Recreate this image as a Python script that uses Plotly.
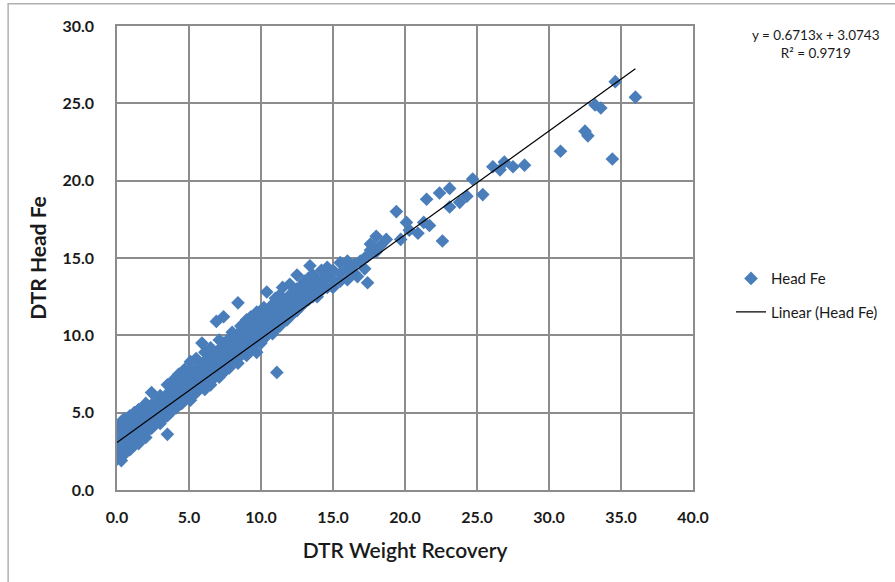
import plotly.graph_objects as go

# (DTR Weight Recovery, DTR Head Fe) pairs
points = [
    (0.0, 2.0), (0.0, 2.6), (0.0, 3.2), (0.0, 3.8),
    (0.1, 2.3), (0.1, 3.5), (0.1, 4.2),
    (0.2, 2.1), (0.2, 2.9), (0.2, 3.3),
    (0.3, 1.9), (0.3, 2.5), (0.3, 3.6), (0.3, 4.4),
    (0.5, 2.7), (0.5, 3.1), (0.5, 3.9), (0.5, 4.6),
    (0.6, 2.4),
    (0.7, 3.0), (0.7, 3.6), (0.7, 4.3),
    (0.9, 2.6), (0.9, 3.4), (0.9, 4.0), (0.9, 4.8),
    (1.0, 3.2), (1.0, 3.9), (1.0, 4.5),
    (1.2, 2.9), (1.2, 3.7), (1.2, 4.2), (1.2, 5.0),
    (1.4, 3.4), (1.4, 4.1), (1.4, 4.7),
    (1.5, 3.0), (1.5, 3.8), (1.5, 5.2),
    (1.7, 3.6), (1.7, 4.3), (1.7, 4.9),
    (1.9, 3.8), (1.9, 4.5), (1.9, 5.3),
    (2.0, 3.4), (2.0, 4.1), (2.0, 4.8), (2.0, 5.6),
    (2.2, 3.9), (2.2, 4.6), (2.2, 5.2),
    (2.4, 4.0), (2.4, 4.7), (2.4, 5.5), (2.4, 6.3),
    (2.6, 4.2), (2.6, 4.9), (2.6, 5.6),
    (2.8, 4.5), (2.8, 5.1), (2.8, 5.8),
    (3.0, 4.3), (3.0, 4.9), (3.0, 5.4), (3.0, 6.1),
    (3.2, 4.6), (3.2, 5.2), (3.2, 5.9),
    (3.5, 3.6), (3.5, 4.8), (3.5, 5.5), (3.5, 6.2), (3.5, 6.8),
    (3.7, 5.0), (3.7, 5.7), (3.7, 6.4),
    (3.9, 5.2), (3.9, 5.9), (3.9, 6.6), (3.9, 7.1),
    (4.1, 5.3), (4.1, 6.0), (4.1, 6.7),
    (4.3, 5.5), (4.3, 6.2), (4.3, 6.9), (4.3, 7.5),
    (4.5, 5.6), (4.5, 6.3), (4.5, 7.0),
    (4.7, 5.8), (4.7, 6.5), (4.7, 7.2), (4.7, 7.8),
    (4.9, 6.0), (4.9, 6.7), (4.9, 7.4),
    (5.1, 5.8), (5.1, 6.4), (5.1, 7.0), (5.1, 7.7), (5.1, 8.3),
    (5.3, 6.2), (5.3, 6.9), (5.3, 7.6),
    (5.5, 6.3), (5.5, 7.1), (5.5, 7.8), (5.5, 8.5),
    (5.7, 6.5), (5.7, 7.2), (5.7, 7.9),
    (5.9, 6.7), (5.9, 7.4), (5.9, 8.1), (5.9, 9.5),
    (6.1, 6.5), (6.1, 7.0), (6.1, 7.6), (6.1, 8.3), (6.1, 8.9),
    (6.3, 7.1), (6.3, 7.8), (6.3, 8.5),
    (6.5, 6.8), (6.5, 7.4), (6.5, 8.0), (6.5, 8.7), (6.5, 9.2),
    (6.7, 7.2), (6.7, 7.9), (6.7, 8.6),
    (6.9, 7.5), (6.9, 8.1), (6.9, 8.8), (6.9, 10.9),
    (7.1, 7.3), (7.1, 7.8), (7.1, 8.4), (7.1, 9.1), (7.1, 9.7),
    (7.4, 7.6), (7.4, 8.2), (7.4, 8.9), (7.4, 9.5), (7.4, 11.2),
    (7.6, 8.0), (7.6, 8.6), (7.6, 9.3),
    (7.8, 7.9), (7.8, 8.5), (7.8, 9.1), (7.8, 9.8),
    (8.0, 8.3), (8.0, 9.0), (8.0, 9.6), (8.0, 10.2),
    (8.2, 8.5), (8.2, 9.2), (8.2, 9.9),
    (8.4, 8.2), (8.4, 8.8), (8.4, 9.4), (8.4, 10.1), (8.4, 12.1),
    (8.6, 8.7), (8.6, 9.3), (8.6, 10.0), (8.6, 10.6),
    (8.8, 9.0), (8.8, 9.6), (8.8, 10.3),
    (9.0, 8.7), (9.0, 9.3), (9.0, 9.9), (9.0, 10.5), (9.0, 11.0),
    (9.3, 9.1), (9.3, 9.8), (9.3, 10.4), (9.3, 11.2),
    (9.5, 9.4), (9.5, 10.0), (9.5, 10.7),
    (9.7, 8.9), (9.7, 9.6), (9.7, 10.2), (9.7, 10.9), (9.7, 11.5),
    (10.0, 9.5), (10.0, 10.1), (10.0, 10.7), (10.0, 11.3),
    (10.2, 9.8), (10.2, 10.4), (10.2, 11.0), (10.2, 11.8),
    (10.4, 10.0), (10.4, 10.6), (10.4, 11.3), (10.4, 12.8),
    (10.6, 10.2), (10.6, 10.9), (10.6, 11.7),
    (10.8, 10.1), (10.8, 10.7), (10.8, 11.4), (10.8, 12.0),
    (11.0, 10.4), (11.0, 11.0), (11.0, 11.6), (11.0, 12.4),
    (11.1, 7.6),
    (11.3, 10.6), (11.3, 11.2), (11.3, 11.9), (11.3, 12.6),
    (11.5, 10.9), (11.5, 11.5), (11.5, 12.2), (11.5, 13.1),
    (11.8, 11.0), (11.8, 11.7), (11.8, 12.3),
    (12.0, 11.2), (12.0, 11.9), (12.0, 12.6), (12.0, 13.3),
    (12.3, 11.5), (12.3, 12.1), (12.3, 12.8),
    (12.5, 11.6), (12.5, 12.3), (12.5, 13.0), (12.5, 13.9),
    (12.8, 11.9), (12.8, 12.6), (12.8, 13.2),
    (13.0, 12.1), (13.0, 12.8), (13.0, 13.5),
    (13.3, 12.3), (13.3, 12.9), (13.3, 13.7), (13.4, 14.5),
    (13.6, 12.5), (13.6, 13.2), (13.6, 13.9),
    (13.9, 12.5), (13.9, 13.0), (13.9, 13.6),
    (14.2, 12.9), (14.2, 13.5), (14.2, 14.2),
    (14.6, 13.1), (14.6, 13.8), (14.6, 14.4),
    (15.0, 13.1), (15.0, 13.6), (15.0, 14.2),
    (15.5, 13.5), (15.5, 14.0), (15.5, 14.7),
    (16.0, 13.6), (16.0, 14.3), (16.2, 14.4), (16.0, 14.8),
    (16.5, 14.0), (16.5, 14.6),
    (16.7, 13.8), (16.9, 14.8),
    (17.2, 14.3), (17.2, 15.0),
    (17.4, 13.4), (17.4, 15.1),
    (17.6, 15.5), (17.6, 15.9),
    (17.8, 15.7),
    (18.0, 16.4), (18.0, 15.4),
    (18.3, 15.8), (18.7, 16.2),
    (19.4, 18.0), (19.7, 16.2),
    (20.1, 17.3), (20.3, 16.8), (20.9, 16.6),
    (21.3, 17.3), (21.5, 18.8), (21.7, 17.1),
    (22.4, 19.2), (22.6, 16.1),
    (23.1, 19.5), (23.1, 18.3), (23.8, 18.6), (24.3, 19.0),
    (24.7, 20.1), (25.4, 19.1),
    (26.1, 20.9), (26.6, 20.7), (26.9, 21.2), (27.5, 20.9), (28.3, 21.0),
    (30.8, 21.9),
    (32.5, 23.2), (32.7, 22.9),
    (33.2, 24.9), (33.6, 24.7),
    (34.4, 21.4), (34.6, 26.4),
    (36.0, 25.4),
]
recovery = [p[0] for p in points]
head_fe = [p[1] for p in points]

slope = 0.6713
intercept = 3.0743
r_squared = 0.9719

x_ticks = [0, 5, 10, 15, 20, 25, 30, 35, 40]
y_ticks = [0, 5, 10, 15, 20, 25, 30]

FONT = "Lato, 'Open Sans', sans-serif"
BLUE = "#4A7EBB"
GRID = "#8C8C8C"

trend_x = [0.0, max(recovery)]
trend_y = [slope * v + intercept for v in trend_x]

fig = go.Figure()
fig.add_trace(go.Scatter(
    x=recovery, y=head_fe, mode="markers", name="Head Fe",
    legendgroup="a",
    marker=dict(symbol="diamond", size=10.5, color=BLUE, line=dict(width=0)),
))
fig.add_trace(go.Scatter(
    x=trend_x, y=trend_y, mode="lines", name="Linear (Head Fe)",
    legendgroup="b",
    line=dict(color="black", width=1.2),
))

axis_common = dict(
    showgrid=True, gridcolor=GRID, gridwidth=1.5,
    showline=True, linecolor=GRID, linewidth=1.5, mirror=True,
    zeroline=False, ticks="", tickformat=".1f",
    tickfont=dict(family=FONT, size=16, color="#1a1a1a", weight="bold"),
)

fig.update_layout(
    width=895, height=582,
    margin=dict(l=117, r=202, t=26, b=92),
    paper_bgcolor="white", plot_bgcolor="white",
    font=dict(family=FONT, color="#1a1a1a"),
    xaxis=dict(range=[0, 40], tickvals=x_ticks, ticklabelstandoff=12,
               title=dict(text="DTR Weight Recovery",
                          font=dict(family=FONT, size=21, weight=600), standoff=18),
               **axis_common),
    yaxis=dict(range=[0, 30], tickvals=y_ticks, ticklabelstandoff=18,
               title=dict(text="DTR Head Fe", font=dict(family=FONT, size=21, weight="bold"), standoff=10),
               **axis_common),
    legend=dict(x=1.066, y=0.491, xanchor="left", yanchor="top",
                font=dict(family=FONT, size=15, color="#1a1a1a"),
                traceorder="grouped", tracegroupgap=11,
                bgcolor="rgba(0,0,0,0)", borderwidth=0),
    shapes=[dict(type="rect", xref="paper", yref="paper",
                 x0=-0.189, x1=1.5, y0=-0.3, y1=1.048,
                 line=dict(color="#B0B0B0", width=1.5), layer="below")],
    annotations=[dict(
        xref="paper", yref="paper", x=(882 - 117) / 576, y=1 - (26 - 26.5) / 463.5,
        xanchor="right", yanchor="top", align="center", showarrow=False,
        text=f"y = {slope}x + {intercept}<br>R² = {r_squared}",
        font=dict(family=FONT, size=13.5, color="#1a1a1a"),
    )],
)

fig.write_html("out.html")
